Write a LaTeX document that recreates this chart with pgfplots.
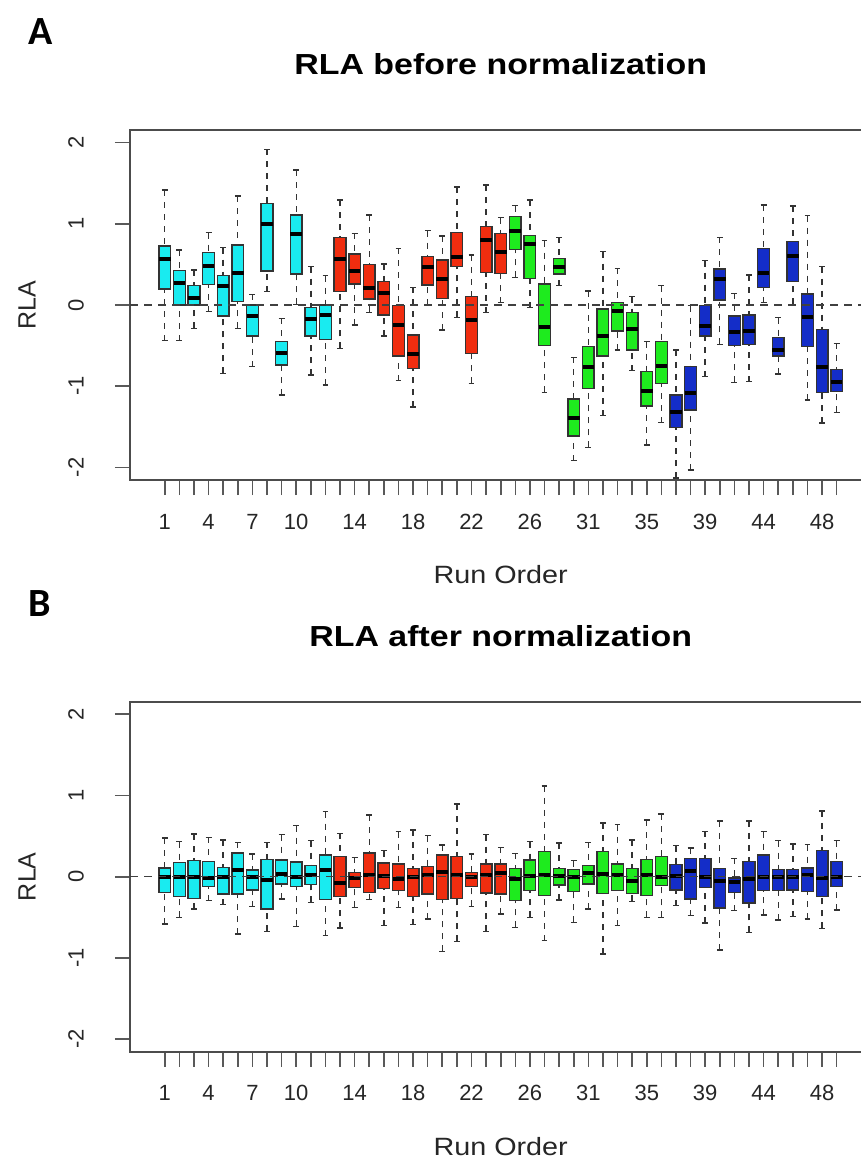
\documentclass[border=0pt]{standalone}
\usepackage{fontspec}
\setmainfont{Liberation Sans}
\newfontfamily\calibri{Carlito}
\usepackage{pgfplots}
\usepackage{pgfplotstable}
\usepgfplotslibrary{statistics}
\pgfplotsset{compat=1.18}

\definecolor{rcyan}{RGB}{25,235,240}
\definecolor{rred}{RGB}{240,45,15}
\definecolor{rgreen}{RGB}{30,235,30}
\definecolor{rblue}{RGB}{20,45,200}

% RLA boxes, one row per run (lower whisker, quartiles, median, upper whisker)
\pgfplotstableread{
lw lq med uq uw
-0.439 0.197 0.562 0.726 1.415
-0.439 0.000 0.267 0.423 0.677
-0.287 0.000 0.082 0.238 0.431
-0.082 0.250 0.484 0.648 0.890
-0.841 -0.135 0.238 0.365 0.706
-0.287 0.041 0.390 0.738 1.342
-0.759 -0.382 -0.131 0.000 0.131
0.164 0.418 0.997 1.251 1.916
-1.108 -0.738 -0.587 -0.451 -0.164
0.008 0.382 0.870 1.108 1.662
-0.862 -0.382 -0.172 -0.029 0.472
-0.985 -0.423 -0.123 0.000 0.361
-0.533 0.164 0.562 0.829 1.292
-0.246 0.258 0.423 0.628 0.882
-0.090 0.074 0.205 0.500 1.108
-0.382 -0.123 0.144 0.287 0.505
-0.931 -0.628 -0.246 -0.008 0.697
-1.259 -0.779 -0.603 -0.369 0.217
0.000 0.246 0.464 0.595 0.915
-0.308 0.082 0.320 0.554 0.849
-0.152 0.472 0.587 0.890 1.456
-0.964 -0.595 -0.185 0.103 0.615
-0.094 0.402 0.800 0.964 1.477
0.029 0.390 0.648 0.882 1.075
0.341 0.685 0.911 1.087 1.223
-0.033 0.328 0.751 0.853 1.292
-1.075 -0.500 -0.267 0.258 0.792
0.238 0.382 0.472 0.574 0.833
-1.916 -1.612 -1.395 -1.157 -0.644
-1.752 -1.026 -0.767 -0.513 0.172
-1.362 -0.628 -0.382 -0.049 0.656
-0.554 -0.320 -0.070 0.033 0.451
-0.808 -0.554 -0.300 -0.090 0.103
-1.723 -1.243 -1.058 -0.821 -0.451
-1.448 -0.964 -0.747 -0.451 0.238
-2.133 -1.510 -1.321 -1.108 -0.554
-2.031 -1.292 -1.087 -0.759 -0.008
-0.882 -0.382 -0.258 -0.008 0.546
-0.484 0.062 0.320 0.443 0.833
-0.952 -0.500 -0.328 -0.135 0.144
-0.944 -0.484 -0.320 -0.123 0.369
0.029 0.217 0.390 0.697 1.231
-0.849 -0.628 -0.554 -0.402 -0.156
0.008 0.287 0.607 0.779 1.218
-1.169 -0.513 -0.144 0.135 1.100
-1.456 -1.079 -0.759 -0.300 0.472
-1.321 -1.067 -0.944 -0.792 -0.472
}\before

\pgfplotstableread{
lw lq med uq uw
-0.583 -0.193 0.000 0.107 0.476
-0.500 -0.242 0.000 0.176 0.431
-0.398 -0.267 0.000 0.197 0.525
-0.295 -0.119 -0.016 0.185 0.484
-0.345 -0.213 0.000 0.115 0.451
-0.706 -0.213 0.086 0.291 0.423
-0.369 -0.164 -0.008 0.082 0.279
-0.673 -0.398 -0.037 0.209 0.423
-0.275 -0.090 0.033 0.205 0.517
-0.611 -0.119 0.000 0.181 0.628
-0.316 -0.098 0.025 0.135 0.443
-0.726 -0.283 0.086 0.267 0.800
-0.632 -0.242 -0.082 0.250 0.533
-0.377 -0.131 -0.016 0.053 0.238
-0.283 -0.193 0.025 0.291 0.759
-0.603 -0.144 0.004 0.168 0.320
-0.377 -0.172 -0.029 0.156 0.554
-0.591 -0.242 0.000 0.103 0.578
-0.521 -0.213 0.020 0.127 0.505
-0.919 -0.283 0.053 0.267 0.390
-0.796 -0.267 0.025 0.246 0.894
-0.365 -0.119 -0.008 0.053 0.279
-0.673 -0.201 0.025 0.156 0.517
-0.460 -0.213 0.045 0.156 0.361
-0.624 -0.295 -0.029 0.103 0.287
-0.500 -0.172 0.012 0.205 0.431
-0.788 -0.234 0.025 0.308 1.120
-0.287 -0.103 0.012 0.103 0.414
-0.562 -0.185 0.000 0.086 0.197
-0.398 -0.090 0.045 0.135 0.423
-0.952 -0.205 0.033 0.312 0.661
-0.603 -0.172 0.020 0.156 0.640
-0.304 -0.205 -0.049 0.103 0.455
-0.500 -0.234 0.020 0.209 0.697
-0.500 -0.111 0.000 0.246 0.771
-0.357 -0.164 0.012 0.148 0.382
-0.480 -0.275 0.066 0.226 0.353
-0.570 -0.131 0.000 0.226 0.558
-0.903 -0.386 -0.049 0.103 0.689
-0.418 -0.193 -0.070 -0.016 0.226
-0.685 -0.324 -0.029 0.185 0.689
-0.472 -0.172 0.000 0.267 0.554
-0.533 -0.172 0.000 0.086 0.443
-0.492 -0.164 0.000 0.086 0.402
-0.521 -0.181 0.020 0.107 0.394
-0.636 -0.246 -0.016 0.320 0.812
-0.410 -0.119 0.000 0.185 0.443
}\after

% one box: table, row, fill colour
\newcommand\rlabox[3]{%
  \pgfplotstablegetelem{#2}{lw}\of#1\let\vlw\pgfplotsretval
  \pgfplotstablegetelem{#2}{lq}\of#1\let\vlq\pgfplotsretval
  \pgfplotstablegetelem{#2}{med}\of#1\let\vmed\pgfplotsretval
  \pgfplotstablegetelem{#2}{uq}\of#1\let\vuq\pgfplotsretval
  \pgfplotstablegetelem{#2}{uw}\of#1\let\vuw\pgfplotsretval
  \edef\temp{\noexpand\addplot[rla=#3, boxplot prepared={draw position=\the\numexpr#2+1\relax,
    lower whisker=\vlw, lower quartile=\vlq, median=\vmed,
    upper quartile=\vuq, upper whisker=\vuw}] coordinates {};}%
  \temp}

\pgfplotsset{
  rla/.style={
    boxplot/draw direction=y,
    boxplot/box extend=0.8,
    boxplot/whisker extend=0.4,
    boxplot/draw/box/.code={%
      \draw[fill=#1, draw=black!80, line width=0.7pt, solid]
        (boxplot box cs:\pgfplotsboxplotvalue{lower quartile},0) rectangle
        (boxplot box cs:\pgfplotsboxplotvalue{upper quartile},1);
    },
    boxplot/draw/lower whisker/.code={%
      \draw[black!80, line width=0.7pt, dash pattern=on 3pt off 3pt]
        (boxplot box cs:\pgfplotsboxplotvalue{lower whisker},0.5) --
        (boxplot box cs:\pgfplotsboxplotvalue{lower quartile},0.5);
      \draw[black!80, line width=0.75pt, solid]
        (boxplot whisker cs:\pgfplotsboxplotvalue{lower whisker},0) --
        (boxplot whisker cs:\pgfplotsboxplotvalue{lower whisker},1);
    },
    boxplot/draw/upper whisker/.code={%
      \draw[black!80, line width=0.7pt, dash pattern=on 3pt off 3pt]
        (boxplot box cs:\pgfplotsboxplotvalue{upper whisker},0.5) --
        (boxplot box cs:\pgfplotsboxplotvalue{upper quartile},0.5);
      \draw[black!80, line width=0.75pt, solid]
        (boxplot whisker cs:\pgfplotsboxplotvalue{upper whisker},0) --
        (boxplot whisker cs:\pgfplotsboxplotvalue{upper whisker},1);
    },
    boxplot/draw/median/.code={%
      \draw[black, line width=2pt, solid]
        (boxplot box cs:\pgfplotsboxplotvalue{median},0) --
        (boxplot box cs:\pgfplotsboxplotvalue{median},1);
    },
  },
  rlaaxis/.style={
    scale only axis, width=370.7pt, height=175pt, anchor=south west,
    xmin=-1.38, xmax=49.38, ymin=-2.155, ymax=2.155,
    axis line style={black!70, line width=0.9pt},
    tick align=outside, xtick pos=bottom, ytick pos=left,
    major tick length=7.5pt, minor tick length=7.5pt,
    tick style={black!65, line width=0.8pt},
    xtick={1,4,7,10,14,18,22,26,30,34,38,42,46},
    xticklabels={1,4,7,10,14,18,22,26,31,35,39,44,48},
    minor xtick={2,3,5,6,8,9,11,12,13,15,16,17,19,20,21,23,24,25,27,28,29,
      31,32,33,35,36,37,39,40,41,43,44,45,47},
    ytick={-2,-1,0,1,2}, yticklabels={-2,-1,0,1,2},
    ticklabel style={font=\fontsize{11}{13}\selectfont, text=black!85},
    xticklabel style={anchor=center}, xticklabel shift=13.3pt,
    yticklabel style={rotate=90, anchor=center}, yticklabel shift=19.5pt,
    /pgf/number format/assume math mode=true,
    xlabel={Run Order},
    xlabel style={at={([yshift=-51.65pt]axis description cs:0.5,0)}, anchor=base,
      font=\fontsize{12.5}{15}\selectfont, xscale=1.15, text=black!85},
    ylabel={RLA},
    ylabel style={at={([xshift=-51.5pt]axis description cs:0,0.5)}, anchor=center,
      font=\fontsize{12.5}{15}\selectfont, text=black!85},
    title style={at={([yshift=21.5pt]axis description cs:0.5,1)}, anchor=base,
      font=\bfseries\fontsize{14.5}{17}\selectfont, xscale=1.17},
  },
}

\begin{document}
\begin{tikzpicture}
\useasboundingbox (0,0) rectangle (430.5pt,-580.5pt);
\clip (0,0) rectangle (430.5pt,-580.5pt);

\begin{axis}[rlaaxis, at={(65pt,-240pt)}, title={RLA before normalization}]
\pgfplotsinvokeforeach{0,...,11}{\rlabox{\before}{#1}{rcyan}}
\pgfplotsinvokeforeach{12,...,23}{\rlabox{\before}{#1}{rred}}
\pgfplotsinvokeforeach{24,...,34}{\rlabox{\before}{#1}{rgreen}}
\pgfplotsinvokeforeach{35,...,46}{\rlabox{\before}{#1}{rblue}}
\draw[black!75, line width=0.7pt, dash pattern=on 4pt off 3pt]
  (axis cs:-1.38,0) -- (axis cs:49.38,0);
\end{axis}

\begin{axis}[rlaaxis, at={(65pt,-525.85pt)}, title={RLA after normalization}]
\pgfplotsinvokeforeach{0,...,11}{\rlabox{\after}{#1}{rcyan}}
\pgfplotsinvokeforeach{12,...,23}{\rlabox{\after}{#1}{rred}}
\pgfplotsinvokeforeach{24,...,34}{\rlabox{\after}{#1}{rgreen}}
\pgfplotsinvokeforeach{35,...,46}{\rlabox{\after}{#1}{rblue}}
\draw[black!75, line width=0.7pt, dash pattern=on 4pt off 3pt]
  (axis cs:-1.38,0) -- (axis cs:49.38,0);
\end{axis}

\node[font=\calibri\bfseries\fontsize{20}{24}\selectfont, anchor=base] at (20.35pt,-22.5pt) {A};
\node[font=\calibri\bfseries\fontsize{20}{24}\selectfont, anchor=base] at (20pt,-308.35pt) {B};
\end{tikzpicture}
\end{document}
